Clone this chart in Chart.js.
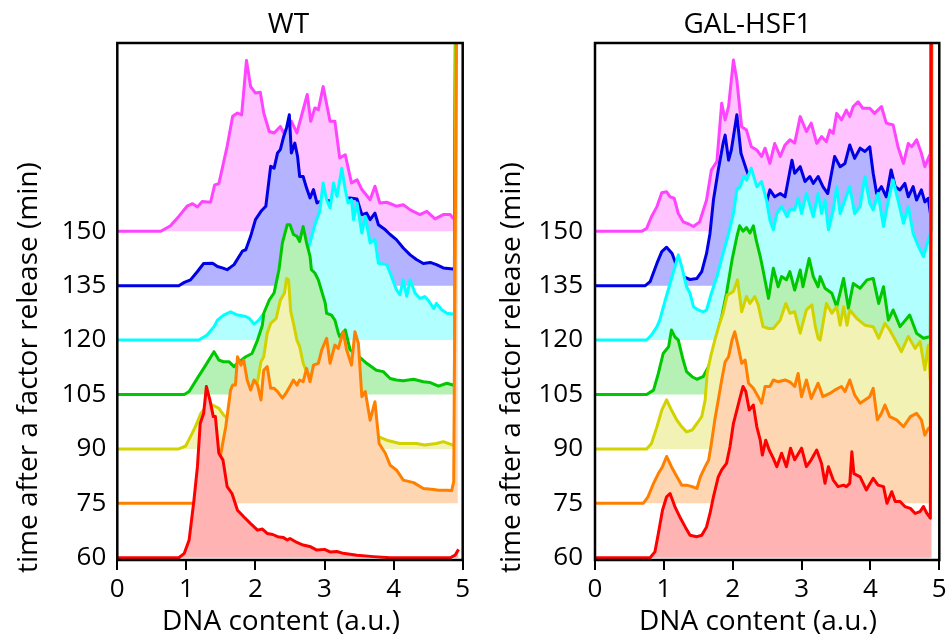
<!DOCTYPE html>
<html><head><meta charset="utf-8">
<script src="https://cdn.jsdelivr.net/npm/chart.js@4.4.1/dist/chart.umd.min.js"></script>
<style>
html,body{margin:0;padding:0;background:#fff;}
#wrap{position:relative;width:946px;height:639px;overflow:hidden;}
canvas{position:absolute;top:0;}
#c1{left:0;} #c2{left:470px;}
</style></head><body>
<div id="wrap"><canvas id="c1" width="470" height="639"></canvas><canvas id="c2" width="476" height="639"></canvas></div>
<script>
// ---- data: [DNA content (a.u.), time offset + signal] ----
const baselines = [60, 75, 90, 105, 120, 135, 150];
const yTicks = [60, 75, 90, 105, 120, 135, 150];
const xTicks = [0, 1, 2, 3, 4, 5];

const wt60 = [[0,60],[0.89,60],[0.97,61.2],[1.04,64.9],[1.11,75.9],[1.16,85.1],[1.20,97.0],[1.25,99.8],[1.29,107.2],[1.34,103.5],[1.39,98.9],[1.42,98.9],[1.47,88.8],[1.53,86.9],[1.59,79.6],[1.66,77.7],[1.74,73.1],[1.83,71.3],[1.93,69.4],[2.03,67.6],[2.10,67.9],[2.17,66.7],[2.25,66.4],[2.32,65.8],[2.40,65.6],[2.46,64.9],[2.50,65.3],[2.60,64.2],[2.69,63.5],[2.80,63.0],[2.89,62.1],[3.00,62.3],[3.08,61.6],[3.18,61.7],[3.27,61.2],[3.47,60.7],[3.71,60.3],[3.95,60],[4.82,60],[4.89,60.7],[4.94,62.3]];
const wt75 = [[0,75],[1.30,75],[1.38,78],[1.45,84],[1.50,88.8],[1.57,96.1],[1.64,106.2],[1.67,107.6],[1.71,107.6],[1.74,115.4],[1.79,113.1],[1.83,114.5],[1.88,109.0],[1.93,106.2],[1.98,109.0],[2.03,107.6],[2.08,103.5],[2.12,111.7],[2.17,112.7],[2.22,106.7],[2.27,106.7],[2.32,105.8],[2.39,104.0],[2.44,105.3],[2.51,107.6],[2.55,109.0],[2.60,107.6],[2.64,109.0],[2.69,108.5],[2.74,112.2],[2.79,108.5],[2.84,113.1],[2.91,113.6],[2.96,117.3],[3.03,120.5],[3.08,113.6],[3.15,118.6],[3.20,117.7],[3.27,122.3],[3.32,117.3],[3.39,113.1],[3.44,122.3],[3.49,119.1],[3.54,104.4],[3.59,105.8],[3.66,97.9],[3.73,103.0],[3.79,91.5],[3.88,88.8],[3.95,85.5],[4.04,84.2],[4.14,81.4],[4.29,80.7],[4.43,79.1],[4.58,78.8],[4.65,78.6],[4.77,78.6],[4.84,78.5],[4.87,81],[4.93,260]];
const wt90 = [[0,90],[0.89,90],[0.99,90.8],[1.06,93.4],[1.13,96.1],[1.21,99.8],[1.28,101.6],[1.38,102.1],[1.47,101.2],[1.54,99.3],[1.62,98],[1.75,99],[1.90,102],[2.03,108.5],[2.08,114.0],[2.12,115.4],[2.17,121.9],[2.22,124.6],[2.30,126],[2.36,131],[2.42,133],[2.45,137],[2.48,136.5],[2.51,128],[2.55,124.6],[2.60,120],[2.64,118.2],[2.69,113.6],[2.72,112.2],[2.90,106],[3.20,103],[3.50,99],[3.78,93.4],[3.90,92.4],[4.09,91.5],[4.33,91.5],[4.45,91.05],[4.62,91.5],[4.72,92.0],[4.86,91.05],[4.88,91],[4.91,260]];
const wt105 = [[0,105],[0.97,105],[1.04,105.8],[1.16,109.5],[1.28,113.1],[1.40,116.8],[1.47,114.5],[1.54,114.0],[1.62,114.0],[1.69,112.7],[1.76,114.0],[1.86,115.4],[1.95,116.3],[2.03,120],[2.10,124.1],[2.12,127.4],[2.20,131.05],[2.27,133.0],[2.34,139.4],[2.39,146.8],[2.46,151.8],[2.50,151.8],[2.55,149.1],[2.60,148.6],[2.64,147.2],[2.69,151.3],[2.74,146.8],[2.79,143.1],[2.81,139.4],[2.86,138.5],[2.91,136.6],[2.96,133.4],[3.01,130.2],[3.03,127.4],[3.10,126.9],[3.15,125.5],[3.20,121.9],[3.22,120.9],[3.30,122.8],[3.37,117.3],[3.47,115.9],[3.61,113.6],[3.75,111.7],[3.85,111.3],[3.95,109.4],[4.04,109.0],[4.14,108.8],[4.29,109.2],[4.43,108.5],[4.53,108.3],[4.65,107.3],[4.77,108.1],[4.86,107.6],[4.88,107.6],[4.90,260]];
const wt120 = [[0,120],[1.18,120],[1.30,121.4],[1.40,123.7],[1.45,125.5],[1.54,126.9],[1.64,127.8],[1.74,126.9],[1.86,126.5],[1.91,126.0],[1.98,124.4],[2.05,125.5],[2.10,126.9],[2.30,129],[2.50,134],[2.68,141],[2.79,146.8],[2.86,151.8],[2.93,155.5],[2.98,163.3],[3.03,158.7],[3.08,156.4],[3.13,163.3],[3.18,159.6],[3.25,167.4],[3.30,161.5],[3.34,157.8],[3.39,158.7],[3.42,153.2],[3.47,157.8],[3.54,149.5],[3.59,154.1],[3.66,146.8],[3.73,147.7],[3.78,141.2],[3.90,140.8],[3.95,138.5],[4.04,133.9],[4.09,132.5],[4.14,136.6],[4.19,132.1],[4.24,136.6],[4.31,133.0],[4.38,131.5],[4.45,132],[4.50,131.0],[4.58,128.7],[4.62,130.1],[4.70,128.3],[4.77,127.4],[4.86,127.2],[4.89,127.2],[4.91,260]];
const wt135 = [[0,135],[0.89,135],[0.97,135.9],[1.06,136.6],[1.16,138.9],[1.25,141.1],[1.38,141.2],[1.45,140.3],[1.52,139.9],[1.59,139.4],[1.69,140.8],[1.81,144.5],[1.86,144.9],[1.93,148.6],[2.00,153.2],[2.08,155.5],[2.15,156.9],[2.22,167.9],[2.27,167.4],[2.32,171.6],[2.36,172.5],[2.41,176.2],[2.45,178.5],[2.49,182.1],[2.52,171.6],[2.57,174.3],[2.61,170.6],[2.64,165.1],[2.69,165.1],[2.74,161.9],[2.79,159.2],[2.84,161.5],[2.89,157.8],[2.93,158.2],[3.10,158.5],[3.25,159],[3.37,159.2],[3.47,158.9],[3.54,154.6],[3.61,155.0],[3.66,153.2],[3.73,155.0],[3.78,151.8],[3.88,150.4],[3.95,149.1],[4.04,147.7],[4.14,145.4],[4.24,143.5],[4.33,142.2],[4.43,141.1],[4.53,141.4],[4.62,140.8],[4.72,139.9],[4.86,139.6],[4.88,139.6],[4.91,260]];
const wt150 = [[0,150],[0.63,150],[0.77,151.5],[0.89,154.1],[1.01,156.9],[1.09,157.6],[1.16,156.7],[1.23,158.2],[1.35,158.0],[1.41,162.8],[1.47,163.1],[1.59,173.4],[1.67,181.7],[1.74,182.6],[1.80,182.1],[1.87,197.1],[1.93,189.9],[2.00,188.1],[2.07,188.3],[2.12,182.6],[2.20,177.5],[2.27,177.1],[2.36,178.9],[2.41,177.1],[2.49,179.4],[2.52,180.3],[2.60,177.1],[2.69,183.5],[2.75,187.7],[2.80,180.3],[2.86,184.0],[2.91,183.5],[2.98,189.9],[3.08,180.3],[3.15,180.3],[3.22,170.2],[3.30,171.1],[3.39,163.3],[3.47,164.2],[3.54,161.5],[3.66,158.7],[3.73,162.4],[3.80,157.8],[3.90,158.0],[4.04,156.9],[4.14,157.3],[4.24,155.9],[4.38,154.6],[4.48,155.5],[4.60,153.4],[4.72,154.6],[4.82,154.6],[4.86,153.6],[4.90,153.6],[4.92,260]];

const hsf60 = [[0,60],[0.80,60],[0.87,61.6],[0.92,66.7],[0.98,73.1],[1.04,76.8],[1.09,77.7],[1.16,74.1],[1.23,71.3],[1.31,68.5],[1.38,66.2],[1.48,65.8],[1.55,66.2],[1.62,68.5],[1.67,72.2],[1.72,76.8],[1.79,82.3],[1.84,84.2],[1.91,86.0],[1.96,90.6],[2.01,97.0],[2.06,100.7],[2.11,104.4],[2.15,107.2],[2.19,105.8],[2.24,100.7],[2.30,102.1],[2.35,96.1],[2.40,92.4],[2.43,88.3],[2.48,92.4],[2.53,89.7],[2.59,87.4],[2.64,85.1],[2.71,88.8],[2.78,85.1],[2.84,90.2],[2.90,87.0],[3.00,90.2],[3.07,85.1],[3.14,87.0],[3.22,89.7],[3.29,86.0],[3.34,80.5],[3.39,85.1],[3.46,81.4],[3.53,79.6],[3.61,80.0],[3.65,79.6],[3.70,80.5],[3.73,89.2],[3.76,83.2],[3.85,82.3],[3.94,78.7],[4.04,81.9],[4.11,80.0],[4.19,79.6],[4.24,75.0],[4.31,78.2],[4.36,75.5],[4.43,75.5],[4.50,74.1],[4.58,73.6],[4.65,72.2],[4.72,72.7],[4.77,74.1],[4.82,72.2],[4.87,70.9],[4.89,260]];
const hsf75 = [[0,75],[0.70,75],[0.77,76.8],[0.85,80.5],[0.92,83.2],[0.98,85.1],[1.04,87.9],[1.11,85.1],[1.19,82.3],[1.26,80.0],[1.33,80.0],[1.41,79.6],[1.48,79.1],[1.53,82.3],[1.60,85.1],[1.65,86.9],[1.69,91.5],[1.74,98.0],[1.79,103.5],[1.84,109.0],[1.89,114.0],[1.94,115.4],[1.99,120],[2.03,122.3],[2.08,118.2],[2.13,113.6],[2.18,114.5],[2.23,108.1],[2.30,106.7],[2.37,104.4],[2.42,102.6],[2.47,107.2],[2.54,107.2],[2.59,109.0],[2.66,108.5],[2.76,109.0],[2.83,108.5],[2.90,107.2],[2.95,110.8],[3.00,104.4],[3.07,109.0],[3.14,103.9],[3.24,108.1],[3.31,104.4],[3.41,105.3],[3.48,106.2],[3.58,107.2],[3.63,105.8],[3.70,109.0],[3.77,104.9],[3.85,102.6],[3.92,103.5],[3.99,104.4],[4.04,106.7],[4.10,98.0],[4.16,99.8],[4.21,102.1],[4.28,98.9],[4.38,98.0],[4.48,96.1],[4.58,98.9],[4.67,99.8],[4.74,98.0],[4.79,93.8],[4.84,95.6],[4.87,96.1],[4.89,260]];
const hsf90 = [[0,90],[0.75,90],[0.82,91.5],[0.90,96.1],[0.97,100.7],[1.04,103.5],[1.11,100.7],[1.19,97.9],[1.26,96.1],[1.33,94.7],[1.41,95.2],[1.48,97.0],[1.55,98.9],[1.60,103.5],[1.63,111],[1.68,115.5],[1.74,120.0],[1.80,124],[1.86,127.4],[1.92,132.4],[2.01,133.4],[2.07,136.6],[2.13,127.8],[2.20,132.0],[2.25,130.1],[2.32,132.0],[2.37,129.7],[2.44,123.7],[2.52,123.2],[2.59,123.2],[2.69,125.5],[2.77,130.1],[2.83,127.4],[2.90,127.8],[2.98,121.9],[3.07,128.3],[3.15,129.7],[3.20,123.7],[3.24,120.5],[3.27,120.0],[3.36,130.1],[3.44,127.4],[3.51,129.2],[3.56,124.1],[3.61,129.2],[3.66,124.1],[3.70,128.3],[3.80,126.0],[3.92,124.1],[4.04,123.7],[4.12,120.5],[4.21,124.6],[4.28,122.8],[4.36,120.0],[4.45,116.8],[4.55,121.0],[4.65,117.7],[4.72,119.6],[4.79,111.8],[4.84,118.6],[4.87,109.0],[4.89,260]];
const hsf105 = [[0,105],[0.75,105],[0.85,106.2],[0.92,110.8],[0.99,116.3],[1.07,118.2],[1.11,122.8],[1.16,120.9],[1.21,120],[1.28,114.5],[1.33,111.3],[1.41,109.9],[1.48,109.2],[1.57,109.9],[1.65,112.7],[1.72,116.3],[1.79,122.8],[1.84,126.5],[1.91,132.9],[1.99,142.1],[2.06,148.5],[2.10,151.5],[2.15,150],[2.20,151],[2.25,149.5],[2.30,151.5],[2.34,147.6],[2.40,143.0],[2.44,139.3],[2.52,131.5],[2.59,139.8],[2.66,134.7],[2.71,137.5],[2.78,136.6],[2.83,138.9],[2.90,133.8],[2.98,139.3],[3.02,134.7],[3.11,142.5],[3.17,137.5],[3.24,134.7],[3.27,137.5],[3.34,134.3],[3.44,132.9],[3.51,129.2],[3.61,137.0],[3.68,128.8],[3.75,135.6],[3.85,134.3],[3.95,136.6],[4.04,137.0],[4.12,130.1],[4.19,134.7],[4.26,125.5],[4.33,128.3],[4.43,123.7],[4.57,126.9],[4.67,121.9],[4.77,120.5],[4.87,121.0],[4.89,260]];
const hsf120 = [[0,120],[0.75,120],[0.82,121.4],[0.90,123.7],[0.94,125.5],[1.02,131.0],[1.09,135.6],[1.16,140.2],[1.21,143.5],[1.26,140.2],[1.33,134.7],[1.38,132.9],[1.43,129.2],[1.50,128.3],[1.57,127.8],[1.62,128.3],[1.69,132.9],[1.77,137.5],[1.86,143.9],[1.94,149.4],[2.01,154.9],[2.06,161.4],[2.11,162.3],[2.16,165.1],[2.20,164.1],[2.27,167.4],[2.35,162.3],[2.42,163.7],[2.49,158.6],[2.54,153.1],[2.59,150.4],[2.64,154.9],[2.71,156.8],[2.79,154.0],[2.83,155.9],[2.90,155.9],[2.95,159.1],[3.00,154.9],[3.07,160.4],[3.17,154.0],[3.24,160.4],[3.29,154.9],[3.34,158.6],[3.39,150.4],[3.46,155.9],[3.51,162.3],[3.56,154.9],[3.63,158.6],[3.70,162.3],[3.77,154.9],[3.85,156.8],[3.92,165.1],[3.99,157.7],[4.04,155.9],[4.11,160.4],[4.19,151.3],[4.26,158.6],[4.33,164.1],[4.40,158.6],[4.48,152.2],[4.55,156.8],[4.62,149.4],[4.70,145.7],[4.77,143.0],[4.84,147.6],[4.89,150.4],[4.90,260]];
const hsf135 = [[0,135],[0.73,135],[0.80,136.1],[0.90,141.2],[0.97,144.4],[1.04,145.6],[1.12,143.9],[1.19,140.2],[1.28,137.5],[1.38,136.7],[1.48,137.0],[1.55,138.9],[1.62,143.9],[1.67,149.4],[1.72,158.6],[1.79,166.9],[1.86,174.2],[1.89,176.5],[1.94,169.6],[1.98,172.4],[2.06,182.1],[2.12,171.5],[2.16,169.2],[2.20,166.9],[2.30,162],[2.40,160],[2.49,158],[2.54,161.4],[2.61,159.5],[2.69,160.4],[2.76,159.5],[2.86,169.6],[2.90,166.0],[2.98,167.8],[3.05,163.7],[3.12,165.1],[3.17,163.2],[3.24,165.1],[3.31,162.3],[3.38,160.4],[3.48,170.6],[3.56,167.8],[3.63,168.7],[3.70,173.8],[3.77,170.1],[3.85,172.9],[3.92,172.0],[3.99,173.3],[4.04,166.0],[4.09,160.4],[4.16,162.3],[4.23,159.5],[4.30,166.9],[4.36,162.3],[4.43,161.4],[4.50,163.2],[4.55,159.5],[4.62,162.3],[4.67,158.6],[4.74,161.4],[4.79,158.1],[4.84,159.1],[4.87,155.0],[4.89,260]];
const hsf150 = [[0,150],[0.68,150],[0.75,150.8],[0.82,154.0],[0.90,156.8],[0.97,160.6],[1.04,160.9],[1.09,159.5],[1.15,159.1],[1.21,154.9],[1.28,152.6],[1.36,152.0],[1.43,151.3],[1.52,152.6],[1.62,158.6],[1.69,166.9],[1.77,169.2],[1.84,185.3],[1.89,180.7],[1.94,184.4],[2.01,197.2],[2.06,191.7],[2.13,178.8],[2.20,177.9],[2.27,173.3],[2.35,172.4],[2.42,170.6],[2.47,172.9],[2.54,168.7],[2.61,174.2],[2.69,170.6],[2.76,173.8],[2.83,175.2],[2.90,174.3],[2.98,181.6],[3.07,177.5],[3.14,179.8],[3.22,174.2],[3.29,176.1],[3.36,174.7],[3.41,177.9],[3.46,177.0],[3.51,182.5],[3.58,180.7],[3.65,183.4],[3.70,181.6],[3.75,184.4],[3.82,185.7],[3.89,183.9],[3.99,183.9],[4.06,182.5],[4.16,184.4],[4.23,179.8],[4.33,179.3],[4.40,173.3],[4.48,168.7],[4.55,174.2],[4.60,173.3],[4.67,175.2],[4.74,171.5],[4.79,167.8],[4.86,171.0],[4.87,167.4],[4.90,260]];

const wtSeries = [wt60, wt75, wt90, wt105, wt120, wt135, wt150];
const hsfSeries = [hsf60, hsf75, hsf90, hsf105, hsf120, hsf135, hsf150];

// ---- styles ----
const lineColors = ['#ff0000', '#ff8000', '#d2d200', '#00c800', '#00ffff', '#0000e6', '#ff44ff'];
const fillColors = ['#ffb3b3', '#ffd6b2', '#f2f2b4', '#b5f0b5', '#b2ffff', '#b3b3ff', '#ffc4ff'];
const FONT = "'Open Sans', 'DejaVu Sans', sans-serif";

const panelText = {
  id: 'panelText',
  afterDraw(chart, args, o) {
    const ctx = chart.ctx, ca = chart.chartArea;
    ctx.save();
    ctx.strokeStyle = '#000';
    ctx.lineWidth = 2.5;
    ctx.strokeRect(ca.left, ca.top, ca.right - ca.left, ca.bottom - ca.top);
    ctx.fillStyle = '#000';
    ctx.font = "28px " + FONT;
    ctx.textBaseline = 'alphabetic';
    ctx.textAlign = 'center';
    ctx.fillText(o.title, o.titleX, o.titleY);
    ctx.fillText(o.xTitle, o.xTitleX, o.xTitleY);
    ctx.translate(o.yTitleX, o.yTitleY);
    ctx.rotate(-Math.PI / 2);
    ctx.textAlign = 'left';
    ctx.fillText(o.yTitle, 0, 0);
    ctx.restore();
  }
};

function makeChart(id, series, L) {
  const datasets = series.map((d, i) => ({
    label: String(baselines[i]),
    data: d,
    borderColor: lineColors[i],
    backgroundColor: fillColors[i],
    fill: { value: baselines[i] },
    borderWidth: 3,
    pointRadius: 0,
    tension: 0,
    borderJoinStyle: 'round'
  }));
  return new Chart(document.getElementById(id), {
    type: 'line',
    data: { datasets },
    plugins: [panelText],
    options: {
      responsive: false,
      animation: false,
      events: [],
      layout: { padding: { left: 0, right: L.padRight, top: 43, bottom: 0 } },
      scales: {
        x: {
          type: 'linear', min: 0, max: 5,
          afterBuildTicks: s => { s.ticks = xTicks.map(v => ({ value: v })); },
          afterFit: s => { s.height = 79; s.paddingLeft = 0; s.paddingRight = 0; },
          ticks: { padding: 4, autoSkip: false, maxRotation: 0, color: '#000', font: { family: FONT, size: 26 } },
          grid: { display: true, drawOnChartArea: false, drawTicks: true, tickLength: 10, color: '#000', lineWidth: 2 },
          border: { display: false }
        },
        y: {
          type: 'linear', min: 59.37, max: 201.9,
          afterBuildTicks: s => { s.ticks = yTicks.map(v => ({ value: v })); },
          afterFit: s => { s.width = L.yWidth; s.paddingTop = 0; s.paddingBottom = 0; },
          ticks: { padding: L.tickPad, autoSkip: false, color: '#000', font: { family: FONT, size: 26 } },
          grid: { display: false, drawTicks: false },
          border: { display: false }
        }
      },
      plugins: {
        legend: { display: false },
        tooltip: { enabled: false },
        filler: { propagate: false, drawTime: 'beforeDatasetDraw' },
        panelText: L.text
      }
    }
  });
}

makeChart('c1', wtSeries, {
  yWidth: 117.3, padRight: 7.3, tickPad: 11,
  text: { title: 'WT', titleX: 288.5, titleY: 33,
          xTitle: 'DNA content (a.u.)', xTitleX: 281, xTitleY: 630,
          yTitle: 'time after a factor release (min)', yTitleX: 37, yTitleY: 573 }
});
makeChart('c2', hsfSeries, {
  yWidth: 125, padRight: 6.7, tickPad: 12,
  text: { title: 'GAL-HSF1', titleX: 277.5, titleY: 33,
          xTitle: 'DNA content (a.u.)', xTitleX: 288, xTitleY: 630,
          yTitle: 'time after a factor release (min)', yTitleX: 50, yTitleY: 573 }
});
</script>
</body></html>
